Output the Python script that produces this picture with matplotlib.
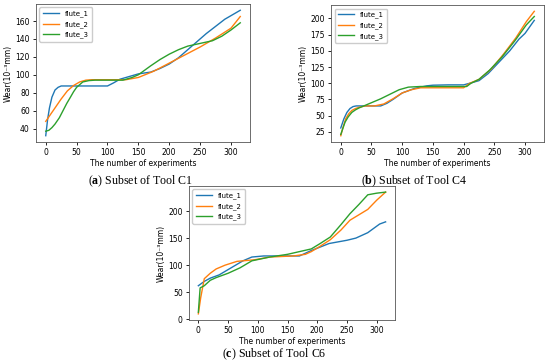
import matplotlib
matplotlib.use("Agg")
import matplotlib.pyplot as plt

plt.rcParams['mathtext.fontset'] = 'custom'
plt.rcParams['mathtext.bf'] = 'Liberation Serif:bold'
plt.rcParams['mathtext.rm'] = 'Liberation Serif'

labels = ['flute_1', 'flute_2', 'flute_3']

# Tool C1
c1_x1 = [0, 3, 6, 10, 15, 20, 25, 40, 60, 80, 100, 110, 120, 135, 150, 170, 185, 200, 215, 230, 245, 260, 275, 290, 300, 315]
c1_y1 = [32, 50, 63, 75, 83, 86, 87.5, 87.5, 87.5, 87.5, 87.5, 91, 95, 98, 101, 103, 107, 112, 119, 128, 137, 146, 154, 162, 166, 172]
c1_x2 = [0, 10, 25, 35, 45, 55, 65, 75, 90, 110, 130, 150, 175, 200, 225, 250, 275, 300, 315]
c1_y2 = [48, 58, 73, 82, 88, 92, 94, 94.5, 94.5, 94.5, 94.5, 97, 104, 113, 122, 131, 141, 152, 165]
c1_x3 = [0, 5, 10, 15, 22, 28, 34, 40, 45, 50, 55, 60, 70, 80, 100, 125, 140, 150, 160, 170, 185, 200, 215, 230, 250, 270, 285, 300, 315]
c1_y3 = [37, 38, 41, 45, 52, 60, 68, 75, 81, 86, 89, 92, 93.5, 94, 94, 94, 97, 100, 105, 110, 117, 123, 128, 132, 135, 138, 143, 150, 158]

# Tool C4
c4_x1 = [0, 5, 10, 15, 20, 25, 40, 55, 65, 75, 85, 100, 120, 140, 150, 175, 200, 210, 225, 240, 255, 275, 290, 300, 315]
c4_y1 = [31, 45, 55, 61, 64, 65, 65, 65, 65, 69, 75, 85, 92, 96, 97, 97.5, 97.5, 100, 104, 115, 130, 150, 168, 177, 197]
c4_x2 = [0, 4, 8, 13, 18, 24, 30, 40, 55, 70, 85, 100, 115, 130, 150, 175, 200, 210, 225, 245, 265, 285, 302, 315]
c4_y2 = [19, 33, 45, 53, 58, 61, 63, 65, 65, 68, 76, 85, 90, 93, 93, 93, 93, 100, 106, 122, 145, 170, 195, 211]
c4_x3 = [0, 4, 7, 12, 18, 24, 30, 40, 50, 65, 80, 95, 110, 130, 150, 180, 205, 212, 225, 242, 262, 283, 302, 315]
c4_y3 = [21, 32, 40, 48, 55, 59, 62, 66, 70, 76, 83, 90, 94, 95, 95, 95, 95, 100, 106, 120, 140, 165, 190, 203]

# Tool C6
c6_x1 = [0, 10, 20, 35, 55, 75, 90, 110, 140, 170, 190, 220, 250, 265, 285, 305, 315]
c6_y1 = [62, 70, 76, 82, 95, 108, 115, 117, 117, 117, 127, 140, 146, 150, 160, 176, 180]
c6_x2 = [0, 4, 10, 20, 30, 45, 65, 95, 120, 160, 180, 190, 205, 222, 240, 255, 270, 285, 300, 315]
c6_y2 = [10, 40, 75, 85, 93, 100, 107, 110, 115, 117, 120, 125, 135, 147, 165, 183, 193, 203, 220, 235]
c6_x3 = [0, 3, 10, 20, 30, 50, 70, 90, 120, 150, 170, 190, 205, 222, 240, 255, 270, 285, 300, 315]
c6_y3 = [13, 58, 62, 72, 77, 85, 95, 108, 115, 120, 125, 130, 140, 152, 175, 195, 212, 230, 233, 235]

panels = [
    ([c1_x1, c1_x2, c1_x3], [c1_y1, c1_y2, c1_y3], [40, 60, 80, 100, 120, 140, 160], 'a', 'C1'),
    ([c4_x1, c4_x2, c4_x3], [c4_y1, c4_y2, c4_y3], [25, 50, 75, 100, 125, 150, 175, 200], 'b', 'C4'),
    ([c6_x1, c6_x2, c6_x3], [c6_y1, c6_y2, c6_y3], [0, 50, 100, 150, 200], 'c', 'C6'),
]
# axes boxes in figure fraction
boxes = [
    [0.0655, 0.610, 0.389, 0.379],
    [0.602, 0.610, 0.387, 0.376],
    [0.3436, 0.121, 0.3745, 0.368],
]
captions = [(0.2545, 0.503), (0.753, 0.503), (0.498, 0.026)]

fs = 5.5
fig = plt.figure(figsize=(5.5, 3.64), dpi=100)
for (xs, ys, yt, letter, tool), box, cap in zip(panels, boxes, captions):
    ax = fig.add_axes(box)
    for x, y, lab in zip(xs, ys, labels):
        ax.plot(x, y, lw=1.0, label=lab)
    ax.set_xticks([0, 50, 100, 150, 200, 250, 300])
    ax.set_yticks(yt)
    ax.tick_params(labelsize=fs, length=2.5, width=0.6, pad=2)
    for s in ax.spines.values():
        s.set_linewidth(0.6)
        s.set_color('#555555')
    ax.set_xlabel('The number of experiments', fontsize=fs, labelpad=1)
    ax.set_ylabel('Wear(10⁻³mm)', fontsize=fs, labelpad=2)
    ax.legend(loc='upper left', fontsize=5, handlelength=2.4, handletextpad=0.8,
              borderpad=0.45, labelspacing=0.55, framealpha=1, edgecolor='#cccccc')
    fig.text(cap[0], cap[1], r'($\mathbf{%s}$) Subset of Tool %s' % (letter, tool),
             family='Liberation Serif', fontsize=8.6, ha='center', va='center')

fig.savefig('out.png', dpi=100)
